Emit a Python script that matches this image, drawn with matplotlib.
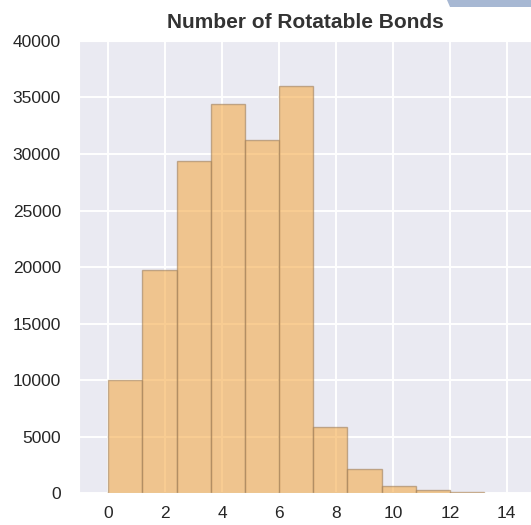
import numpy as np
import matplotlib
matplotlib.use('Agg')
import matplotlib.pyplot as plt
import seaborn as sns
from matplotlib.patches import Polygon

sns.set_style('darkgrid')
plt.rcParams['font.family'] = ['Liberation Sans', 'DejaVu Sans']

# histogram of rotatable bond counts (11 bins)
bin_edges = [0.0, 1.2, 2.4, 3.6, 4.8, 6.0, 7.2, 8.4, 9.6, 10.8, 12.0, 13.2]
counts = [9980, 19700, 29350, 34420, 31200, 35970, 5890, 2130, 680, 265, 130]
xticks = [0, 2, 4, 6, 8, 10, 12, 14]
yticks = [0, 5000, 10000, 15000, 20000, 25000, 30000, 35000, 40000]

fig = plt.figure(figsize=(5.31, 5.25), dpi=100)
ax = fig.add_axes([0.1488, 0.0604, 0.8512, 0.8618])

left = np.array(bin_edges[:-1])
widths = np.diff(bin_edges)
ax.bar(left, counts, width=widths, align='edge', color='#f4ab4b',
       edgecolor='#a0805c', linewidth=1.0, alpha=0.6)

ax.set_xlim(-1.03, 14.85)
ax.set_ylim(0, 40000)
ax.set_xticks(xticks)
ax.set_yticks(yticks)
ax.tick_params(axis='both', labelsize=12.5, colors='#262626', length=0)
ax.tick_params(axis='y', pad=13)
ax.tick_params(axis='x', pad=9)
ax.grid(color='white', linewidth=1.4)
ax.set_axisbelow(True)
ax.set_title('Number of Rotatable Bonds', fontsize=15, fontweight='bold',
             color='#333333', pad=9)

# strip of a neighbouring panel at the top right corner
fig.patches.append(Polygon([[0.842, 1.0], [1.0, 1.0], [1.0, 0.986], [0.848, 0.986]],
                           closed=True, transform=fig.transFigure,
                           facecolor='#a7b8d3', edgecolor='none'))

fig.savefig('out.png', dpi=100)
